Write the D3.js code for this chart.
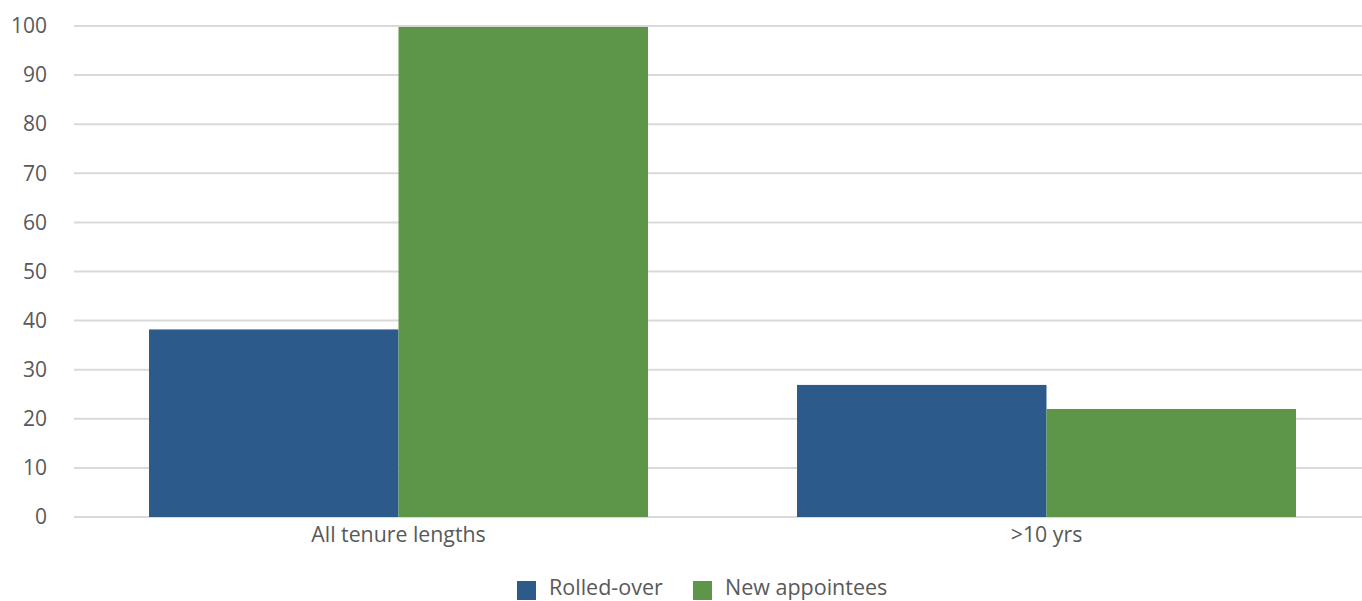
<!DOCTYPE html>
<html><head><meta charset="utf-8">
<script src="https://cdn.jsdelivr.net/npm/d3@7"></script>
<style>body{margin:0;background:#fff;}svg{display:block;font-family:"Open Sans","Noto Sans",sans-serif;}</style>
</head><body><svg id="c" width="1362" height="601"></svg>
<script>
const categories = ["All tenure lengths", ">10 yrs"];
const seriesNames = ["Rolled-over", "New appointees"];
const rolledOver = [38.2, 26.9];
const newAppointees = [99.8, 22.0];
const yTicks = [0,10,20,30,40,50,60,70,80,90,100];
const colors = ["#2B5A8B", "#5D9648"];

const svg = d3.select("#c");
const y = d3.scaleLinear().domain([0,100]).range([517,26]);
const x0 = d3.scaleBand().domain(categories).range([74.5,1370.5]).padding(0);
const bw = x0.bandwidth();
const x1 = d3.scaleBand().domain(seriesNames).range([bw*0.115, bw*0.885]).padding(0);

// gridlines
svg.append("g").selectAll("line").data(yTicks).join("line")
  .attr("x1",74).attr("x2",1362)
  .attr("y1",d=>y(d)).attr("y2",d=>y(d))
  .attr("stroke","#d9d9d9").attr("stroke-width",2);

// y labels
const yAxis = d3.axisLeft(y).tickValues(yTicks).tickSize(0).tickPadding(0);
const ga = svg.append("g").attr("transform","translate(47,0)").call(yAxis);
ga.select(".domain").remove();
ga.selectAll("text").attr("font-size",21).attr("fill","#595959").attr("font-family","'Open Sans','Noto Sans',sans-serif");

// bars
const data = categories.map((c,i)=>({c, vals:[rolledOver[i], newAppointees[i]]}));
const groups = svg.append("g").selectAll("g").data(data).join("g")
  .attr("transform",d=>`translate(${x0(d.c)},0)`);
groups.selectAll("rect").data(d=>d.vals.map((v,j)=>({s:seriesNames[j],v,j}))).join("rect")
  .attr("x",d=>x1(d.s)).attr("width",x1.bandwidth())
  .attr("y",d=>y(d.v)).attr("height",d=>y(0)-y(d.v))
  .attr("fill",d=>colors[d.j]);

// x labels
const xAxis = d3.axisBottom(x0).tickSize(0).tickPadding(0);
const gx = svg.append("g").attr("transform","translate(0,542)").call(xAxis);
gx.select(".domain").remove();
gx.selectAll("text").attr("font-size",21.3).attr("fill","#595959").attr("dy",0).attr("font-family","'Open Sans','Noto Sans',sans-serif");

// legend
const legendX = [517, 693];
const lg = svg.append("g");
seriesNames.forEach((s,i)=>{
  lg.append("rect").attr("x",legendX[i]).attr("y",581).attr("width",19).attr("height",19).attr("fill",colors[i]);
  lg.append("text").attr("x",legendX[i]+32).attr("y",595).attr("font-size",21.5).attr("fill","#595959").text(s);
});
</script></body></html>
